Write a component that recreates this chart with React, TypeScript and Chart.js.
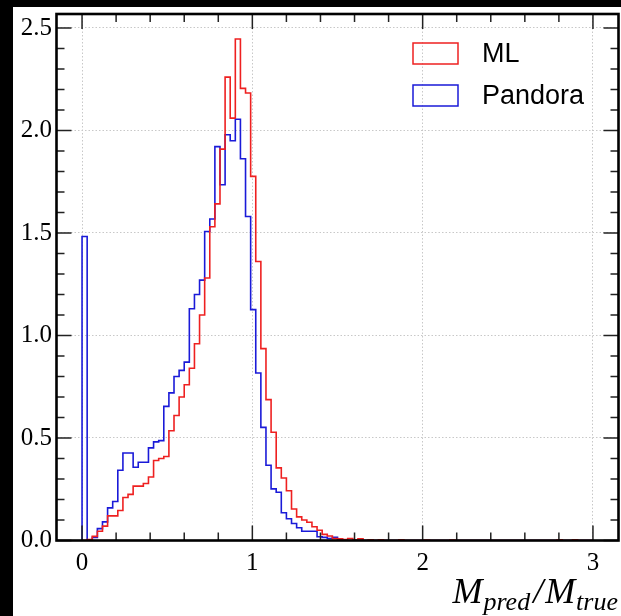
import React, { useEffect, useRef } from "react";
import { Chart, registerables } from "chart.js";

Chart.register(...registerables);

// ---- data ----
const BIN_START = 0;
const BIN_WIDTH = 0.03;
const BIN_COUNT = 100;

const mlValues = [
  0, 0.005, 0.02, 0.045, 0.07, 0.12, 0.12, 0.146, 0.21, 0.225,
  0.265, 0.265, 0.278, 0.31, 0.39, 0.4, 0.41, 0.535, 0.61, 0.7,
  0.76, 0.84, 0.96, 1.1, 1.28, 1.53, 1.642, 1.909, 2.26, 2.06,
  2.446, 2.205, 2.183, 1.776, 1.361, 0.936, 0.687, 0.528, 0.354, 0.305,
  0.243, 0.154, 0.115, 0.1, 0.089, 0.067, 0.05, 0.03, 0.022, 0.01,
  0.008, 0.005, 0.01, 0.004, 0.008, 0, 0.004, 0, 0.003, 0,
  0, 0, 0.003, 0, 0, 0, 0, 0.002, 0, 0,
  0, 0, 0.002, 0, 0, 0, 0, 0, 0, 0,
  0, 0, 0, 0, 0, 0, 0, 0, 0, 0,
  0, 0, 0, 0.004, 0, 0, 0.003, 0, 0, 0,
];

const pandoraValues = [
  1.483, 0, 0.015, 0.058, 0.091, 0.159, 0.19, 0.343, 0.427, 0.427,
  0.357, 0.382, 0.382, 0.452, 0.481, 0.487, 0.654, 0.72, 0.8, 0.83,
  0.87, 1.13, 1.2, 1.27, 1.507, 1.568, 1.921, 1.735, 1.979, 1.95,
  2.055, 1.862, 1.58, 1.126, 0.817, 0.552, 0.367, 0.252, 0.235, 0.135,
  0.106, 0.083, 0.062, 0.045, 0.045, 0.045, 0.018, 0.015, 0.01, 0.015,
  0.005, 0, 0, 0, 0, 0, 0, 0, 0, 0,
  0, 0, 0, 0, 0, 0, 0, 0, 0, 0,
  0, 0, 0, 0, 0, 0, 0, 0, 0, 0,
  0, 0, 0, 0, 0, 0, 0, 0, 0, 0,
  0, 0, 0, 0, 0, 0, 0, 0, 0, 0,
];

const seriesLabels = ["ML", "Pandora"];
const seriesColors = ["#ee2020", "#1a1ad8"];

const xTickValues = [0, 1, 2, 3];
const xMinorTickValues = [0.2, 0.4, 0.6, 0.8, 1.2, 1.4, 1.6, 1.8, 2.2, 2.4, 2.6, 2.8];
const yTickValues = [0, 0.5, 1.0, 1.5, 2.0, 2.5];
const yMinorTickValues = [
  0.1, 0.2, 0.3, 0.4, 0.6, 0.7, 0.8, 0.9, 1.1, 1.2, 1.3, 1.4,
  1.6, 1.7, 1.8, 1.9, 2.1, 2.2, 2.3, 2.4,
];

const X_MIN = -0.15;
const X_MAX = 3.15;
const Y_MIN = 0;
const Y_MAX = 2.568;

function stepPoints(values: number[]) {
  const pts: { x: number; y: number }[] = [];
  pts.push({ x: BIN_START, y: 0 });
  for (let i = 0; i < BIN_COUNT; i++) {
    pts.push({ x: BIN_START + i * BIN_WIDTH, y: values[i] });
  }
  pts.push({ x: BIN_START + BIN_COUNT * BIN_WIDTH, y: values[BIN_COUNT - 1] });
  pts.push({ x: BIN_START + BIN_COUNT * BIN_WIDTH, y: 0 });
  return pts;
}

const SERIF = "'Liberation Serif', 'DejaVu Serif', serif";
const SANS = "'Liberation Sans', Arial, sans-serif";

const framePlugin = {
  id: "frame",
  afterDraw(chart: any) {
    const { ctx, chartArea } = chart;
    const xs = chart.scales.x;
    const ys = chart.scales.y;
    const { left, right, top, bottom } = chartArea;
    ctx.save();
    // ticks (inward, all four sides)
    ctx.strokeStyle = "#222";
    ctx.lineWidth = 1.5;
    const MAJ = 15;
    const MIN = 8;
    ctx.beginPath();
    for (const v of xTickValues) {
      const px = xs.getPixelForValue(v);
      ctx.moveTo(px, bottom);
      ctx.lineTo(px, bottom - MAJ);
      ctx.moveTo(px, top);
      ctx.lineTo(px, top + MAJ);
    }
    for (const v of xMinorTickValues) {
      const px = xs.getPixelForValue(v);
      ctx.moveTo(px, bottom);
      ctx.lineTo(px, bottom - MIN);
      ctx.moveTo(px, top);
      ctx.lineTo(px, top + MIN);
    }
    for (const v of yTickValues) {
      const py = ys.getPixelForValue(v);
      ctx.moveTo(left, py);
      ctx.lineTo(left + MAJ, py);
      ctx.moveTo(right, py);
      ctx.lineTo(right - MAJ, py);
    }
    for (const v of yMinorTickValues) {
      const py = ys.getPixelForValue(v);
      ctx.moveTo(left, py);
      ctx.lineTo(left + MIN, py);
      ctx.moveTo(right, py);
      ctx.lineTo(right - MIN, py);
    }
    ctx.stroke();

    // spines
    ctx.strokeStyle = "#000";
    ctx.lineWidth = 2.6;
    ctx.strokeRect(left, top, right - left, bottom - top);

    // legend
    const boxW = 45;
    const boxH = 21;
    const bx = right - 205.5;
    const by0 = top + 29;
    const gap = 42;
    ctx.lineWidth = 1.5;
    ctx.font = `27px ${SANS}`;
    ctx.textBaseline = "middle";
    ctx.textAlign = "left";
    seriesLabels.forEach((lab, i) => {
      const by = by0 + i * gap;
      ctx.strokeStyle = seriesColors[i];
      ctx.strokeRect(bx, by, boxW, boxH);
      ctx.fillStyle = "#000";
      ctx.fillText(lab, bx + boxW + 24, by + boxH / 2 + 1);
    });

    // x axis title: M_pred / M_true
    const big = `italic 36px ${SERIF}`;
    const small = `italic 26px ${SERIF}`;
    const parts: [string, string, number, number][] = [
      ["M", big, 0, 1],
      ["pred", small, 7, 3],
      ["/", big, 0, 2],
      ["M", big, 0, 1],
      ["true", small, 7, 0],
    ];
    let total = 0;
    for (const [t, f, , gapAfter] of parts) {
      ctx.font = f;
      total += ctx.measureText(t).width + gapAfter;
    }
    const baseY = chart.height - 13;
    let cx = chart.width - 3 - total;
    ctx.textBaseline = "alphabetic";
    ctx.fillStyle = "#000";
    for (const [t, f, dy, gapAfter] of parts) {
      ctx.font = f;
      ctx.fillText(t, cx, baseY + dy);
      cx += ctx.measureText(t).width + gapAfter;
    }
    ctx.restore();
  },
};

export default function App() {
  const ref = useRef<HTMLCanvasElement | null>(null);

  useEffect(() => {
    if (!ref.current) return;
    const chart = new Chart(ref.current, {
      type: "line",
      data: {
        datasets: [
          {
            label: seriesLabels[0],
            data: stepPoints(mlValues),
            borderColor: seriesColors[0],
            borderWidth: 1.6,
            stepped: "before",
            pointRadius: 0,
            fill: false,
          },
          {
            label: seriesLabels[1],
            data: stepPoints(pandoraValues),
            borderColor: seriesColors[1],
            borderWidth: 1.6,
            stepped: "before",
            pointRadius: 0,
            fill: false,
          },
        ],
      },
      options: {
        animation: false,
        responsive: false,
        parsing: false,
        layout: { padding: { top: 7, right: 2.5, left: 0, bottom: 0 } },
        plugins: {
          legend: { display: false },
          tooltip: { enabled: false },
        },
        scales: {
          x: {
            type: "linear",
            min: X_MIN,
            max: X_MAX,
            afterBuildTicks: (s: any) => {
              s.ticks = xTickValues.map((v) => ({ value: v }));
            },
            afterFit: (s: any) => {
              s.height = 75.5;
              s.paddingLeft = 0;
              s.paddingRight = 0;
            },
            grid: {
              color: "#c8c8c8",
              lineWidth: 1,
              drawTicks: false,
            },
            border: { display: false, dash: [1.5, 2] },
            ticks: {
              color: "#000",
              padding: 8,
              maxRotation: 0,
              font: { family: SERIF, size: 25 },
              callback: (v: any) => String(v),
            },
          },
          y: {
            type: "linear",
            min: Y_MIN,
            max: Y_MAX,
            afterBuildTicks: (s: any) => {
              s.ticks = yTickValues.map((v) => ({ value: v }));
            },
            afterFit: (s: any) => {
              s.width = 43.5;
              s.paddingTop = 0;
              s.paddingBottom = 0;
            },
            grid: {
              color: "#c8c8c8",
              lineWidth: 1,
              drawTicks: false,
            },
            border: { display: false, dash: [1.5, 2] },
            ticks: {
              color: "#000",
              padding: 4.5,
              font: { family: SERIF, size: 25 },
              callback: (v: any) => Number(v).toFixed(1),
            },
          },
        },
      },
      plugins: [framePlugin],
    } as any);
    return () => chart.destroy();
  }, []);

  return (
    <div
      style={{
        position: "absolute",
        left: 0,
        top: 0,
        width: 621,
        height: 616,
        background: "#000",
        overflow: "hidden",
      }}
    >
      <canvas
        ref={ref}
        width={608}
        height={609}
        style={{
          position: "absolute",
          left: 13,
          top: 7,
          width: 608,
          height: 609,
          background: "#fff",
        }}
      />
    </div>
  );
}
